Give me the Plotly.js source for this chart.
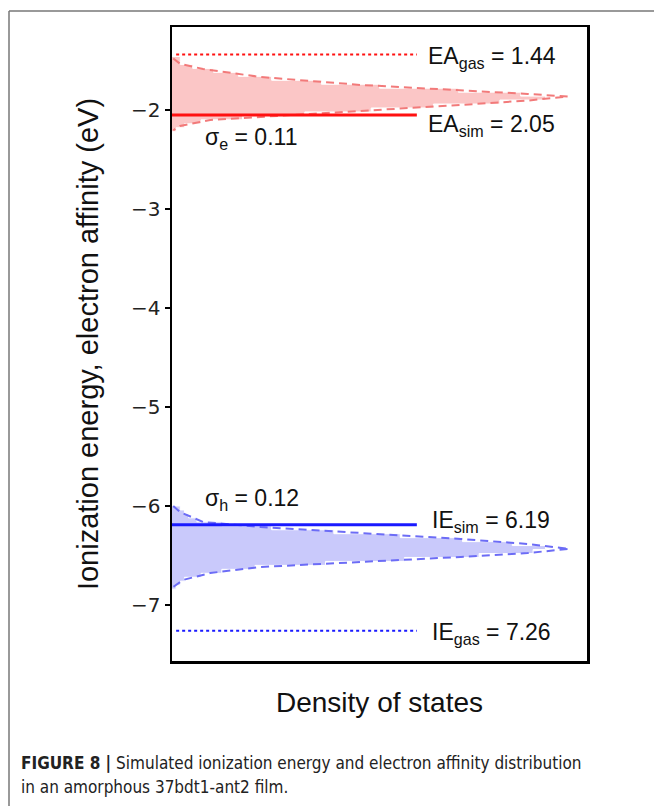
<!DOCTYPE html>
<html><head><meta charset="utf-8">
<script src="https://cdn.plot.ly/plotly-3.0.1.min.js"></script>
<style>html,body{margin:0;padding:0;background:#fff;}#chart{width:654px;height:806px;}</style>
</head><body><div id="chart"></div>
<script>
// ---- data ----
const yTickVals = [-2, -3, -4, -5, -6, -7];
const eaGas = 1.44, eaSim = 2.05, ieSim = 6.19, ieGas = 7.26;
const sigmaE = 0.11, sigmaH = 0.12;
const levelLineEnd = 0.59; // relative density where level lines stop

// electron affinity distribution (dashed fit), density vs energy
const eaFitDensity = [0.003, 0.02, 0.075, 0.213, 0.454, 0.696, 0.857, 0.954, 0.857, 0.696, 0.454, 0.213, 0.092, 0.019, 0.003];
const eaFitEnergy  = [-1.48, -1.535, -1.586, -1.667, -1.747, -1.798, -1.838, -1.865, -1.905, -1.949, -2.010, -2.071, -2.101, -2.162, -2.205];
// electron affinity histogram
const eaHistEdges  = [-1.46, -1.50, -1.54, -1.58, -1.62, -1.66, -1.70, -1.74, -1.78, -1.82, -1.86, -1.90, -1.94, -1.98, -2.02, -2.06, -2.10, -2.14, -2.18, -2.22];
const eaHistCounts = [0.02, 0.02, 0.05, 0.10, 0.16, 0.24, 0.36, 0.50, 0.69, 0.84, 0.90, 0.79, 0.63, 0.48, 0.32, 0.17, 0.07, 0.03, 0.01];

// ionization energy distribution (dashed fit)
const ieFitDensity = [0.003, 0.019, 0.075, 0.213, 0.454, 0.696, 0.857, 0.957, 0.857, 0.696, 0.454, 0.213, 0.092, 0.027, 0.003];
const ieFitEnergy  = [-6.00, -6.061, -6.162, -6.212, -6.273, -6.333, -6.384, -6.434, -6.475, -6.515, -6.566, -6.616, -6.677, -6.747, -6.818];
// ionization energy histogram
const ieHistEdges  = [-6.00, -6.04, -6.08, -6.12, -6.16, -6.20, -6.24, -6.28, -6.32, -6.36, -6.40, -6.44, -6.48, -6.52, -6.56, -6.60, -6.64, -6.68, -6.72, -6.76, -6.80, -6.84];
const ieHistCounts = [0.02, 0.03, 0.04, 0.06, 0.12, 0.24, 0.39, 0.55, 0.70, 0.82, 0.90, 0.87, 0.74, 0.56, 0.37, 0.20, 0.12, 0.07, 0.03, 0.02, 0.01];

// ---- build ----
function histPolygon(edges, counts) {
  const xs = [0], ys = [edges[0]];
  for (let i = 0; i < counts.length; i++) {
    xs.push(counts[i], counts[i]);
    ys.push(edges[i], edges[i + 1]);
  }
  xs.push(0); ys.push(edges[edges.length - 1]);
  return {xs, ys};
}
const eaH = histPolygon(eaHistEdges, eaHistCounts);
const ieH = histPolygon(ieHistEdges, ieHistCounts);

const RED = '#ff1111', BLUE = '#1a1aff';
const traces = [
  {x: eaH.xs, y: eaH.ys, type: 'scatter', mode: 'lines', fill: 'toself',
   fillcolor: '#fbc6c6', line: {color: '#ffffff', width: 1}, hoverinfo: 'skip'},
  {x: ieH.xs, y: ieH.ys, type: 'scatter', mode: 'lines', fill: 'toself',
   fillcolor: '#c9c9fb', line: {color: '#ffffff', width: 1}, hoverinfo: 'skip'},
  {x: eaFitDensity, y: eaFitEnergy, type: 'scatter', mode: 'lines',
   line: {color: '#f27a7a', width: 2, dash: '8px,5px'}},
  {x: ieFitDensity, y: ieFitEnergy, type: 'scatter', mode: 'lines',
   line: {color: '#6c6cf6', width: 2, dash: '8px,5px'}},
  {x: [0.01, levelLineEnd], y: [-eaGas, -eaGas], type: 'scatter', mode: 'lines',
   line: {color: RED, width: 2, dash: 'dot'}},
  {x: [0, levelLineEnd], y: [-eaSim, -eaSim], type: 'scatter', mode: 'lines',
   line: {color: RED, width: 3}},
  {x: [0, levelLineEnd], y: [-ieSim, -ieSim], type: 'scatter', mode: 'lines',
   line: {color: BLUE, width: 3}},
  {x: [0.01, levelLineEnd], y: [-ieGas, -ieGas], type: 'scatter', mode: 'lines',
   line: {color: BLUE, width: 2, dash: 'dot'}}
];

const annFont = {family: 'Liberation Sans, Arial, sans-serif', size: 23, color: '#111'};
function lab(text, x, y) {
  return {text, x, y, xref: 'x', yref: 'y', xanchor: 'left', yanchor: 'middle',
          showarrow: false, font: annFont};
}
const plotH = 634;
function py(px) { return (661 - px) / plotH; }
const capFont = {family: 'DejaVu Sans Condensed, Liberation Sans Narrow, sans-serif', size: 17, color: '#222'};
const annotations = [
  lab('EA<sub>gas</sub> = ' + eaGas.toFixed(2), 0.612, -eaGas - 0.03),
  lab('EA<sub>sim</sub> = ' + eaSim.toFixed(2), 0.612, -eaSim - 0.11),
  lab('σ<sub>e</sub> = ' + sigmaE.toFixed(2), 0.075, -eaSim - 0.24),
  lab('σ<sub>h</sub> = ' + sigmaH.toFixed(2), 0.075, -ieSim + 0.26),
  lab('IE<sub>sim</sub> = ' + ieSim.toFixed(2), 0.622, -ieSim + 0.03),
  lab('IE<sub>gas</sub> = ' + ieGas.toFixed(2), 0.622, -ieGas - 0.03),
  {text: '<b>FIGURE 8 |</b> Simulated ionization energy and electron affinity distribution',
   xref: 'paper', yref: 'paper', x: (19 - 172) / 415, y: py(763), xanchor: 'left', yanchor: 'middle',
   showarrow: false, font: capFont},
  {text: 'in an amorphous 37bdt1-ant2 film.',
   xref: 'paper', yref: 'paper', x: (19 - 172) / 415, y: py(787), xanchor: 'left', yanchor: 'middle',
   showarrow: false, font: capFont}
];

const layout = {
  width: 654, height: 806,
  margin: {l: 172, r: 67, t: 27, b: 145},
  paper_bgcolor: '#ffffff', plot_bgcolor: '#ffffff',
  showlegend: false,
  xaxis: {range: [0, 1], showgrid: false, zeroline: false, showticklabels: false, ticks: '',
          showline: true, mirror: true, linecolor: '#000', linewidth: 2.5,
          title: {text: 'Density of states', standoff: 30,
                  font: {family: 'Liberation Sans, Arial, sans-serif', size: 28, color: '#111'}}},
  yaxis: {range: [-7.566, -1.162], showgrid: false, zeroline: false,
          tickvals: yTickVals, ticks: 'outside', ticklen: 5, tickwidth: 1.5, tickcolor: '#000',
          tickfont: {family: 'DejaVu Sans, sans-serif', size: 20, color: '#222'},
          showline: true, mirror: true, linecolor: '#000', linewidth: 2.5,
          title: {text: 'Ionization energy, electron affinity (eV)', standoff: 24,
                  font: {family: 'Liberation Sans, Arial, sans-serif', size: 29, color: '#111'}}},
  annotations,
  shapes: [
    {type: 'line', xref: 'paper', yref: 'paper', x0: (9 - 172) / 415, x1: (660 - 172) / 415, y0: py(11), y1: py(11),
     line: {color: '#777', width: 1.5}},
    {type: 'line', xref: 'paper', yref: 'paper', x0: (9 - 172) / 415, x1: (9 - 172) / 415, y0: py(11), y1: py(810),
     line: {color: '#777', width: 1.5}}
  ]
};
Plotly.newPlot('chart', traces, layout, {displayModeBar: false, staticPlot: true});
</script></body></html>
